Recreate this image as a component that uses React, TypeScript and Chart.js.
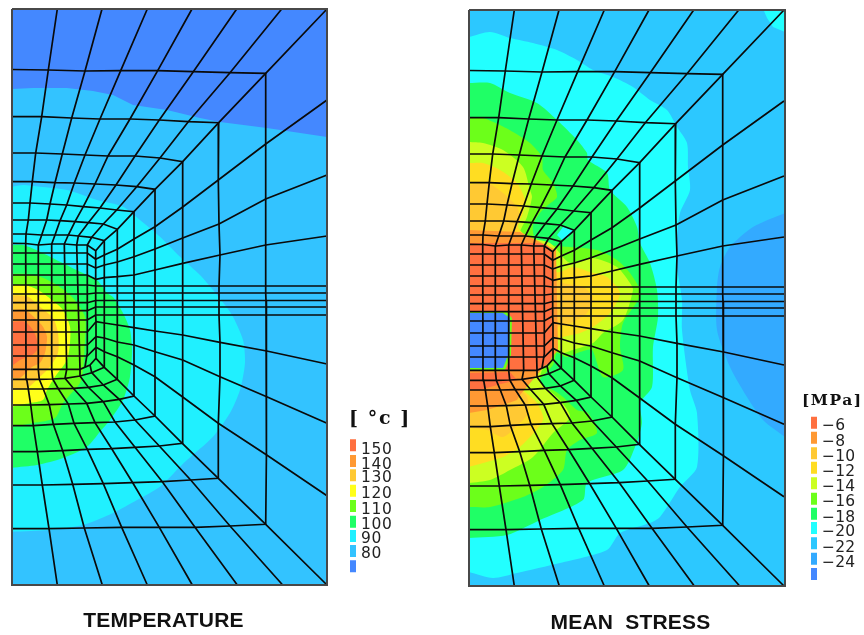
import React, { useEffect, useRef } from "react";
import { Chart, registerables } from "chart.js";

Chart.register(...registerables);

type P = number[];

// ---------- mesh nodes (outer frame -> innermost ring) ----------
const topSpokes: P[][] = [
  [[57.3,9],[48.3,70],[41.7,116.7],[35.7,153],[32.3,181.7],[30,203],[28.3,220],[26,234],[25.7,243.5]],
  [[102,9],[85,71],[71.7,118],[62.3,154],[55,182.7],[50,204],[46.7,220],[41.7,235],[38.3,245]],
  [[147.3,9],[120.7,70.7],[100,119],[85,155],[74.3,183],[66.7,205],[60,220.7],[55,235],[51.7,244]],
  [[192,9],[157.7,70.7],[130,119],[108,156],[95,184],[83.3,206.7],[75,221.7],[68.3,235],[64.3,244]],
  [[236.7,9],[193.3,71.7],[159.3,120],[135,156],[116,185],[100,208],[88.3,222.7],[78.3,236],[76.7,245]],
  [[281.7,9],[230,72.7],[188.3,121.7],[160,158],[136.7,186.7],[116.7,210],[103.3,224],[91.7,237.3],[87.3,245]],
  [[327,9],[265.7,73.3],[218.7,122.7],[182.7,161.7],[155,189.3],[134,211.7],[117.3,229.3],[104.3,240.7],[95.7,250.7]],
];
const rightSpokes: P[][] = [
  [[327,100],[265.7,144],[218.3,180],[182.7,207],[155,226.7],[134,239],[117.3,249.3],[104.3,255],[95.7,259.3]],
  [[327,175],[265.7,199],[219,224],[182.7,238],[155,249],[134,256.7],[117.3,262],[104.3,265],[95.7,268]],
  [[327,236],[265.7,245],[220,255],[182.7,263.3],[155,270],[134,275],[117.3,276.7],[104.3,277.7],[95.7,279.3]],
  [[327,286],[265.7,286],[219,286],[182.7,286],[155,286],[134,286],[117.3,286],[104.3,286],[95.7,286]],
  [[327,293],[265.7,293],[219,293],[182.7,293],[155,293],[134,293],[117.3,293],[104.3,293],[95.7,293]],
  [[327,300.5],[266,300.5],[219,300.5],[182.7,300.5],[155,300.5],[134,300.5],[117.3,300.5],[104.3,300.5],[95.7,300.5]],
  [[327,307],[266,307],[219,307],[182.7,307],[155,307],[134,307],[117.3,307],[104.3,307],[95.7,307]],
  [[327,315],[266,315],[219,315],[182.7,315],[155,315],[134,315],[117.3,315],[104.3,315],[95.7,315]],
  [[327,364],[266.7,351],[220,342.3],[182.7,335],[155,331],[134,327.7],[117.3,325],[104.3,323],[96,321.7]],
  [[327,423.3],[266.7,396.7],[220,376.7],[182.7,360],[155,351.7],[134,345],[117.3,342],[104.3,338],[96,336.7]],
  [[327,495.7],[266.7,455],[218.3,423.3],[182.7,397],[155,376.7],[134,365],[117.3,356.7],[104.3,351.7],[96,347.3]],
];
const bottomSpokes: P[][] = [
  [[327,585],[265.7,524.3],[218.3,478.3],[182.3,443.3],[155,416],[134,396],[117.3,379.3],[104.3,367.3],[96,358.3]],
  [[282.7,585],[230,526],[190.7,480],[159.3,446],[135,420],[119.3,399.3],[103.3,385],[91.7,372.7],[90,365]],
  [[237.3,585],[195,527.3],[162.3,481.7],[135,447.3],[115,422],[103.3,401.7],[88.3,387.3],[80,376],[80,369.3]],
  [[192.3,585],[159.3,527.3],[132.7,482.7],[111.7,448.7],[95,422.7],[86.7,403.3],[73.3,388.3],[65,378.3],[66.7,369.3]],
  [[147.3,585],[121.7,527.3],[103.3,483.7],[87.3,449.3],[74,423.3],[68.3,404],[58.3,388.7],[52.7,379],[51.7,369.3]],
  [[102.3,585],[84.3,528],[72.7,484.3],[62.7,450.7],[53.3,424.3],[49.3,404.7],[43.3,389],[39.3,379.3],[38.3,369.3]],
  [[57.3,585],[49,528.7],[42.3,485],[37.3,451.7],[33.3,425.7],[30.7,405],[28.3,389],[26.7,379.3],[26,369.3]],
];
const ringLeftTop = [69.5, 116.7, 153, 181.7, 203, 220, 234, 243.3];
const ringLeftBottom = [528.7, 485, 451.7, 425.7, 405, 389, 379.3, 369.3];
const blockRowY = [253, 264, 275, 285, 294, 302.7, 310.7, 320, 332, 345, 356];
const innerColumn: P[] = [[87.3,245],[87.3,353],[85,367]];

// ---------- temperature contours (coolest to hottest) ----------
const tempBase: P[] = [[12,9],[327,9],[327,585],[12,585]];
const temp80: P[] = [[12,9],[327,9],[327,137],[267,128],[220,122],[200,118],[167,110],[133,105],[113,95],[93,91],[67,88],[33,88],[12,89]];
const temp90: P[] = [[12,186.7],[23,185],[40,186.7],[67,190],[97,200],[123,206.7],[140,220],[160,236.7],[180,256.7],[200,275],[213,290],[225,305],[233,316.7],[243,340],[245,363],[240,390],[230,413],[213,436.7],[187,460],[180,466.7],[160,486.7],[137,500],[113,513],[83,525],[50,530],[12,531.7]];
const temp100: P[] = [[12,245],[23,245],[40,251.7],[60,261.7],[80,271.7],[97,280],[107,293],[113,297],[123,313],[130,330],[132,350],[130,376.7],[123,400],[110,420],[100,431.7],[87,446.7],[63,458],[37,465],[12,467.7]];
const temp110: P[] = [[12,274],[25,274],[40,276.7],[57,285],[73,298],[85,316.7],[85,340],[83,370],[80,383],[63,403],[55,418],[33,423],[12,426.7]];
const temp120: P[] = [[12,285],[25,285],[38,290],[52,300],[63,310],[70,326.7],[70,343],[67,360],[55,376.7],[47,390],[43,400],[30,403],[12,406.7]];
const temp130: P[] = [[12,295],[28,296.7],[40,306.7],[53,318],[58,333],[58,353],[50,366.7],[40,376.7],[27,388],[12,390]];
const temp140: P[] = [[12,310],[25,310],[35,318],[43,326.7],[47,336.7],[45,353],[40,363],[32,367],[20,378],[12,378]];
const temp150: P[] = [[12,321.7],[25,321.7],[33,330],[37,340],[37,350],[32,355],[20,360],[12,366]];

// ---------- mean stress contours (lowest to highest) ----------
const stressBase: P[] = [[469,10],[785,10],[785,586],[469,586]];
const stress24: P[] = [[785,213],[753,227],[730,247],[720,267],[717,287],[717,330],[730,367],[747,397],[763,420],[785,437]];
const stress22: P[] = [[469,37],[490,32],[510,38],[533,43],[557,50],[577,60],[593,70],[613,77],[633,87],[650,100],[667,110],[677,127],[687,143],[688,167],[690,190],[680,213],[677,240],[677,267],[682,300],[682,330],[690,390],[697,413],[697,467],[680,487],[660,517],[650,523],[620,533],[607,550],[560,563],[517,573],[493,578],[469,572]];
const stress22Corner: P[] = [[764,11],[785,10],[785,32],[773,27],[767,18]];
const stress20: P[] = [[469,83],[490,83],[510,93],[537,103],[557,120],[577,140],[587,153],[588,160],[607,173],[610,190],[627,207],[637,227],[640,243],[650,263],[657,290],[658,317],[653,347],[652,387],[640,403],[642,423],[635,447],[623,470],[587,483],[583,500],[540,520],[507,535],[469,538]];
const stress18: P[] = [[469,118],[483,118],[500,125],[513,132],[530,143],[542,157],[543,170],[553,183],[557,197],[548,205],[540,213],[533,225],[535,238],[552,245],[570,247],[597,250],[617,260],[630,273],[640,290],[638,300],[623,323],[620,347],[623,370],[603,377],[592,350],[580,352],[567,357],[557,353],[553,365],[538,383],[553,390],[563,397],[577,410],[588,413],[597,433],[580,440],[567,450],[563,470],[543,487],[523,497],[490,507],[469,507]];
const stress16: P[] = [[469,142],[483,143],[503,150],[523,167],[530,190],[532,197],[527,217],[520,235],[550,243],[570,263],[593,258],[617,267],[630,283],[633,290],[623,320],[603,333],[593,343],[573,350],[563,353],[553,350],[540,380],[560,400],[570,417],[553,433],[533,457],[510,470],[490,480],[469,483]];
const stress14: P[] = [[469,163],[483,163],[500,170],[517,183],[525,200],[523,213],[518,227],[530,240],[556,272],[573,267],[590,272],[607,277],[620,293],[610,313],[593,327],[580,333],[563,337],[553,340],[513,377],[537,403],[543,420],[520,447],[503,457],[483,463],[469,467]];
const stress12: P[] = [[469,185],[487,183],[503,193],[517,207],[520,220],[515,235],[553,277],[563,283],[583,287],[593,297],[587,313],[573,322],[553,330],[510,375],[527,397],[528,413],[520,423],[503,437],[487,430],[469,428]];
const stress10: P[] = [[469,230],[520,232],[556,250],[558,350],[520,395],[517,400],[503,405],[487,410],[469,413]];
const stress8: P[] = [[469,243],[537,243],[547,245],[553,253],[553,353],[550,363],[537,370],[469,371]];
const stress8Patch: P[] = [[469,373],[510,372],[517,380],[497,385],[480,390],[470,390]];
const stressCyanSpot: P[] = [[557,235],[563,227],[573,230],[568,238],[562,240]];
const stressHalo: P[] = [[469,311],[506,311],[512,318],[511,355],[505,370],[469,370]];
const stressCore: P[] = [[469,313],[503,313],[510,318],[509,353],[503,368],[469,368]];

// ---------- legends ----------
const tempLevels = ["150", "140", "130", "120", "110", "100", "90", "80"];
const tempLevelY = [450, 465, 478, 494, 510, 525, 539, 554];
const tempSwatchTop = [439.3, 455, 469.3, 484.7, 500, 515.7, 530, 545, 560.3];
const stressLevels = ["−6", "−8", "−10", "−12", "−14", "−16", "−18", "−20", "−22", "−24"];
const stressLevelY = [426, 441.7, 456.7, 471.7, 486.7, 502, 517.7, 531.7, 547.7, 563.3];
const stressSwatchTop = [416.7, 431.7, 447.3, 461.7, 477.3, 492.7, 507.7, 522, 537.3, 552.7, 568];

const RED = "#ff7040", ORANGE = "#ff9933", AMBER = "#ffc933", YELLOW = "#ffff1a", GOLD = "#ffdd22",
  LEMON = "#ccff22", LIME = "#6cff1a", GREEN = "#1fff66", CYAN = "#20f0ff", AQUA = "#22ffff",
  SKY = "#33c3ff", SKY2 = "#2cc8ff", AZURE = "#33aaff", BLUE = "#4488ff";
const tempColors = [RED, ORANGE, AMBER, YELLOW, LIME, GREEN, CYAN, SKY, BLUE];
const stressColors = [RED, ORANGE, AMBER, GOLD, LEMON, LIME, GREEN, AQUA, SKY2, AZURE, BLUE];

const STRESS_DX = 457;
const STRESS_DY = 1;

const xy = (pts: P[]) => pts.map(([x, y]) => ({ x, y }));

function meshLines(): P[][] {
  const spokes = [...topSpokes, ...rightSpokes, ...bottomSpokes];
  const lines: P[][] = [...spokes];
  ringLeftTop.forEach((yT, r) => {
    lines.push([[12, yT], ...spokes.map((s) => s[r + 1]), [12, ringLeftBottom[r]]]);
  });
  rightSpokes.forEach((s, i) => {
    lines.push([[12, blockRowY[i]], [87.3, blockRowY[i]], s[8]]);
  });
  for (let i = 0; i < 5; i++) {
    lines.push([topSpokes[i][8], bottomSpokes[6 - i][8]]);
  }
  lines.push(innerColumn);
  return lines;
}

const shift = (pts: P[]) => pts.map(([x, y]) => [x + STRESS_DX, y + STRESS_DY]);

function poly(pts: P[], color: string, tension = 0.25) {
  return {
    data: xy(pts),
    showLine: true,
    borderWidth: 0,
    borderColor: "rgba(0,0,0,0)",
    backgroundColor: color,
    fill: "shape",
    pointRadius: 0,
    tension,
  };
}
function stroke(pts: P[], color: string, width: number) {
  return {
    data: xy(pts),
    showLine: true,
    borderWidth: width,
    borderColor: color,
    fill: false,
    pointRadius: 0,
    tension: 0,
    borderCapStyle: "butt",
    borderJoinStyle: "miter",
  };
}

const textPlugin = {
  id: "panelText",
  afterDatasetsDraw(chart: any) {
    const { ctx, scales } = chart;
    const put = (s: string, x: number, y: number, font: string, align: string, spacing = "0px", color = "#111") => {
      ctx.save();
      ctx.font = font;
      ctx.fillStyle = color;
      ctx.textAlign = align;
      ctx.textBaseline = "middle";
      ctx.letterSpacing = spacing;
      ctx.fillText(s, scales.x.getPixelForValue(x), scales.y.getPixelForValue(y));
      ctx.restore();
    };
    const tick = '15.5px "DejaVu Sans"';
    tempLevels.forEach((t, i) => put(t, 361, tempLevelY[i], tick, "left", "0.6px", "#222"));
    stressLevels.forEach((t, i) => put(t, 822, stressLevelY[i], tick, "left", "0.2px", "#222"));
    put("[ °c ]", 349, 419, 'bold 19px "DejaVu Serif"', "left", "1.6px");
    put("[MPa]", 802, 401, 'bold 15.5px "DejaVu Serif"', "left", "1.5px");
    put("TEMPERATURE", 163.5, 621, 'bold 21px "Liberation Sans"', "center", "0.2px");
    put("MEAN  STRESS", 630.5, 623, 'bold 21px "Liberation Sans"', "center", "0.2px");
  },
};

export default function App() {
  const ref = useRef<HTMLCanvasElement>(null);
  useEffect(() => {
    const mesh = meshLines();
    const fills = [
      poly(tempBase, SKY, 0), poly(temp80, BLUE, 0), poly(temp90, CYAN), poly(temp100, GREEN), poly(temp110, LIME),
      poly(temp120, YELLOW), poly(temp130, AMBER), poly(temp140, ORANGE), poly(temp150, RED),
      poly(stressBase, SKY2, 0), poly(stress24, AZURE), poly(stress22, AQUA), poly(stress22Corner, AQUA, 0),
      poly(stress20, GREEN), poly(stress18, LIME), poly(stress16, LEMON), poly(stress14, GOLD),
      poly(stress12, AMBER), poly(stress10, ORANGE, 0), poly(stress8, RED, 0), poly(stress8Patch, RED, 0),
      poly(stressCyanSpot, AQUA, 0), poly(stressHalo, LIME, 0), poly(stressCore, BLUE, 0),
    ];
    // Chart.js paints the last dataset first: strokes first in the list, then fills topmost-first.
    const datasets: any[] = [];
    datasets.push(stroke([[12,9],[327,9],[327,585],[12,585],[12,9]], "#484848", 2));
    datasets.push(stroke([[469,10],[785,10],[785,586],[469,586],[469,10]], "#484848", 2));
    mesh.forEach((l) => {
      datasets.push(stroke(l, "#0a0a0a", 1.7));
      datasets.push(stroke(shift(l), "#0a0a0a", 1.7));
    });
    tempSwatchTop.forEach((t, i) => datasets.push(stroke([[353, t], [353, t + 12]], tempColors[i], 6)));
    stressSwatchTop.forEach((t, i) => datasets.push(stroke([[814, t], [814, t + 12]], stressColors[i], 6)));
    datasets.push(...[...fills].reverse());

    const chart = new Chart(ref.current!, {
      type: "scatter",
      data: { datasets },
      plugins: [textPlugin],
      options: {
        animation: false,
        responsive: false,
        events: [],
        layout: { padding: 0 },
        plugins: { legend: { display: false }, tooltip: { enabled: false }, title: { display: false } },
        scales: {
          x: { type: "linear", min: 0, max: 864, display: false },
          y: { type: "linear", min: 0, max: 635, reverse: true, display: false },
        },
      },
    } as any);
    return () => chart.destroy();
  }, []);
  return (
    <div style={{ position: "fixed", left: 0, top: 0, width: 864, height: 635, background: "#fff" }}>
      <canvas ref={ref} width={864} height={635} style={{ display: "block" }} />
    </div>
  );
}
